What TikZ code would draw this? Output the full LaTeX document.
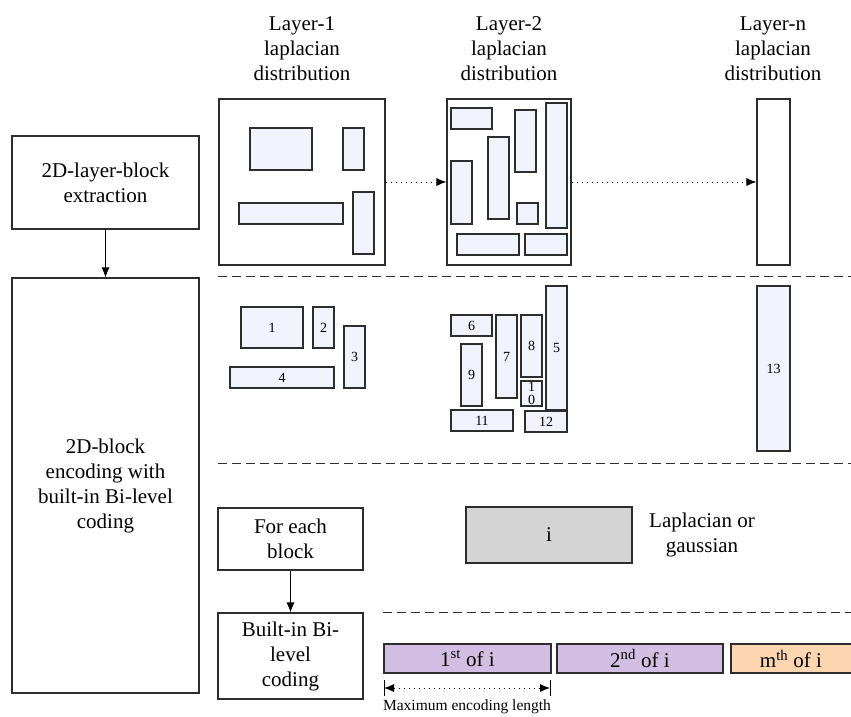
\documentclass[tikz,border=0pt]{standalone}
\usepackage{fontspec}
\setmainfont{Liberation Serif}
\usetikzlibrary{arrows.meta}
\definecolor{blkfill}{RGB}{240,243,252}
\definecolor{edge}{RGB}{45,45,45}
\definecolor{purp}{RGB}{211,190,227}
\definecolor{peach}{RGB}{252,214,176}
\definecolor{grayfill}{RGB}{212,212,212}
\begin{document}
\begin{tikzpicture}[x=1pt,y=-1pt,
  span/.style args={#1/#2/#3/#4}{minimum width={(#3)-(#1)}, minimum height={(#4)-(#2)}, at={({((#1)+(#3))/2},{((#2)+(#4))/2})}},
  box/.style={draw=edge, line width=1.1pt, fill=white, inner sep=0pt, align=center, font=\fontsize{21}{25}\selectfont},
  blk/.style={draw=edge, line width=1.1pt, fill=blkfill, inner sep=0pt, align=center, font=\fontsize{14}{15}\selectfont},
  codebox/.style={draw=edge, line width=1.1pt, inner sep=0pt, align=center, font=\fontsize{21}{25}\selectfont},
  lbl/.style={align=center, inner sep=0pt, font=\fontsize{21}{25}\selectfont},
  flow/.style={draw=black, line width=0.9pt, -{Latex[length=10pt,width=8pt]}},
  dotarrow/.style={draw=black, line width=0.9pt, dash pattern=on 1.2pt off 3.8pt, -{Latex[length=10pt,width=8pt]}},
  sepline/.style={draw=edge, line width=1pt, dash pattern=on 9pt off 5pt},
]
\useasboundingbox (0,0) rectangle (851,716);

% left column
\node[box, span=12/136/199/229] (extr) {2D-layer-block\\extraction};
\node[box, span=12/278/199/693] (enc) {2D-block\\encoding with\\built-in Bi-level\\coding};
\draw[flow] (extr.south) -- (enc.north);

% top labels
\node[lbl] (t1) at (302,49) {Layer-1\\laplacian\\distribution};
\node[lbl] (t2) at (509,49) {Layer-2\\laplacian\\distribution};
\node[lbl] (tn) at (773,49) {Layer-n\\laplacian\\distribution};

% layer boxes
\node[box, span=219/99/385/265] (L1) {};
\node[box, span=447/99/571/265] (L2) {};
\node[box, span=757/99/790/265] (Ln) {};
\draw[dotarrow] (L1.east) -- (L2.west);
\draw[dotarrow] (L2.east) -- (Ln.west);

% layer-1 inner blocks
\node[blk, span=250/128/312/170] (a1) {};
\node[blk, span=343/128/364/170] (a2) {};
\node[blk, span=239/203/343/224] (a4) {};
\node[blk, span=353/192/374/254] (a3) {};

% layer-2 inner blocks
\node[blk, span=451/108/492/129] (c6) {};
\node[blk, span=515/110/536/172] (c8) {};
\node[blk, span=546/103/567/228] (c5) {};
\node[blk, span=488/137/509/219] (c7) {};
\node[blk, span=451/161/472/224] (c9) {};
\node[blk, span=517/203/538/224] (c10) {};
\node[blk, span=457/234/519/255] (c11) {};
\node[blk, span=525/234/567/255] (c12) {};

% separators
\coordinate (s1a) at (218,276); \coordinate (s1b) at (851,276);
\coordinate (s2a) at (218,463); \coordinate (s2b) at (851,463);
\coordinate (s3a) at (383,612); \coordinate (s3b) at (851,612);
\draw[sepline] (s1a) -- (s1b);
\draw[sepline] (s2a) -- (s2b);
\draw[sepline] (s3a) -- (s3b);

% numbered blocks
\node[blk, span=241/307/303/348] (b1) {1};
\node[blk, span=313/307/334/348] (b2) {2};
\node[blk, span=344/326/365/388] (b3) {3};
\node[blk, span=230/367/334/388] (b4) {4};
\node[blk, span=451/315/492/336] (b6) {6};
\node[blk, span=496/315/517/398] (b7) {7};
\node[blk, span=521/315/542/377] (b8) {8};
\node[blk, span=546/286/567/410] (b5) {5};
\node[blk, span=461/344/482/406] (b9) {9};
\node[blk, span=521/381/542/406, font=\fontsize{14}{13}\selectfont] (b10) {1\\0};
\node[blk, span=451/410/513/431] (b11) {11};
\node[blk, span=525/411/567/432] (b12) {12};
\node[blk, span=757/286/790/451] (b13) {13};

% bottom section
\node[box, span=218/508/363/570] (each) {For each\\block};
\node[box, span=218/613/363/699] (bilevel) {Built-in Bi-\\level\\coding};
\draw[flow] (each.south) -- (bilevel.north);

\node[codebox, fill=grayfill, span=466/507/632/563] (iblk) {i};
\node[lbl] (lapg) at (702,535) {Laplacian or\\gaussian};

\node[codebox, fill=purp, span=384/644/551/673] (c1) {1\textsuperscript{st} of i};
\node[codebox, fill=purp, span=557/644/723/673] (c2) {2\textsuperscript{nd} of i};
\node[codebox, fill=peach, span=731/644/858/673] (cm) {};
\node[lbl] (cmt) at (791,659) {m\textsuperscript{th} of i};

% maximum encoding length
\coordinate (mL) at (384,688);
\coordinate (mR) at (550,688);
\coordinate (mLt) at (384,680); \coordinate (mLb) at (384,696);
\coordinate (mRt) at (550,680); \coordinate (mRb) at (550,696);
\draw[black, line width=0.9pt] (mLt) -- (mLb);
\draw[black, line width=0.9pt] (mRt) -- (mRb);
\draw[black, line width=0.9pt, dash pattern=on 1.2pt off 3.8pt, {Latex[length=10pt,width=8pt]}-{Latex[length=10pt,width=8pt]}] (mL) -- (mR);
\node[font=\fontsize{15.5}{17}\selectfont, inner sep=0pt] (mel) at (467,707) {Maximum encoding length};
\end{tikzpicture}
\end{document}
